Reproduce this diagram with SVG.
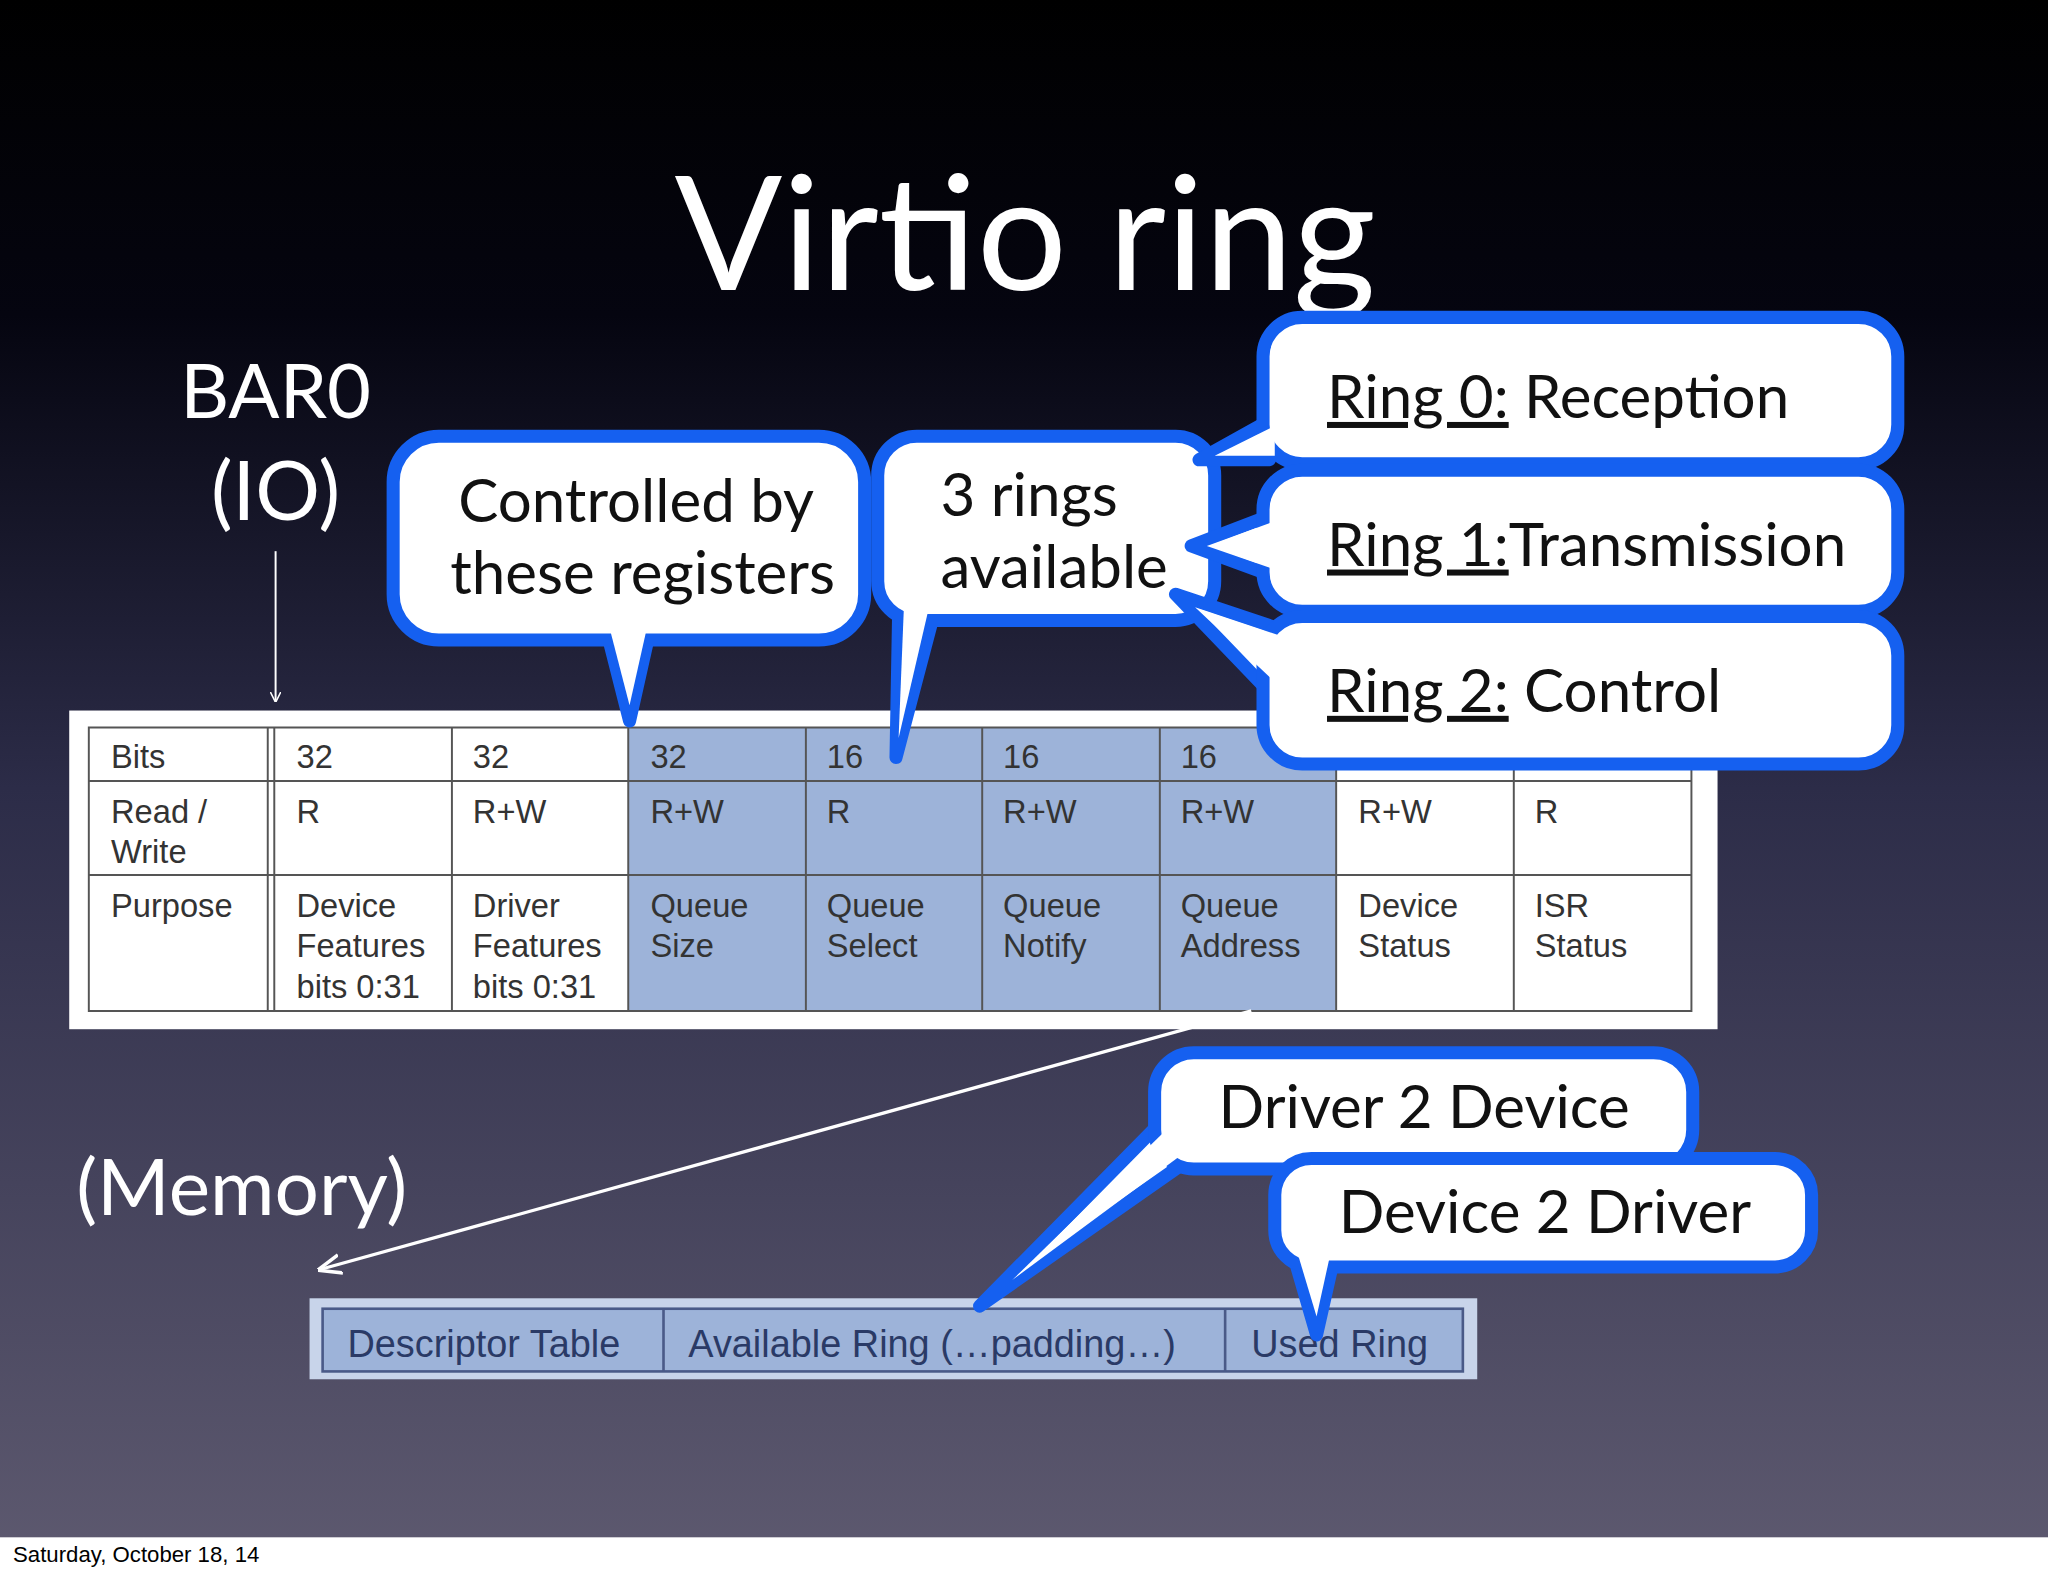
<svg xmlns="http://www.w3.org/2000/svg" width="2048" height="1576" viewBox="0 0 2048 1576">
<defs>
<linearGradient id="bg" x1="0" y1="0" x2="0" y2="1">
<stop offset="0" stop-color="#000"/><stop offset="0.2" stop-color="#050510"/><stop offset="0.5" stop-color="#2c2c48"/><stop offset="1" stop-color="#5e5a70"/>
</linearGradient>
<marker id="ah" viewBox="0 0 10 10" refX="9" refY="5" markerWidth="8" markerHeight="8" orient="auto" markerUnits="userSpaceOnUse"><path d="M0,0 L10,5 L0,10" fill="none" stroke="#fff" stroke-width="1.5"/></marker>
<marker id="ah2" viewBox="0 0 10 10" refX="9" refY="5" markerWidth="18" markerHeight="18" orient="auto" markerUnits="userSpaceOnUse"><path d="M0,1 L10,5 L0,9" fill="none" stroke="#fff" stroke-width="1.5"/></marker>
</defs>
<style>
.w{fill:#fff;font-family:Lato,"Open Sans",sans-serif}
.c{fill:#111;font-family:Lato,"Open Sans",sans-serif;font-size:46px}
.t{fill:#333;font-family:"Liberation Sans",Arial,sans-serif;font-size:25px}
.b{fill:#fff;stroke:#1560f0;stroke-width:10;stroke-linejoin:round}
.bf{fill:#fff;stroke:none}
.g{stroke:#555;stroke-width:1.5;fill:none}
</style>
<rect width="2048" height="1576" fill="url(#bg)"/>
<g transform="scale(1.30612)">
<rect x="0" y="1177" width="1568" height="30" fill="#fff"/>
<text x="10" y="1196" font-family="Liberation Sans,Arial,sans-serif" font-size="17" fill="#000">Saturday, October 18, 14</text>
<text class="w" x="785" y="222" font-size="122" text-anchor="middle">Virtio ring</text>
<text class="w" x="211" y="320" font-size="58" text-anchor="middle">BAR0</text>
<text class="w" x="211" y="398" font-size="62" text-anchor="middle">(IO)</text>
<text class="w" x="185" y="930" font-size="60" text-anchor="middle">(Memory)</text>
<g id="table">
<rect x="53" y="544" width="1262" height="244" fill="#fff"/>
<rect x="481" y="557" width="542" height="217" fill="#9db3d9"/>
<path class="g" d="M68,557H1295V774H68Z M68,598H1295 M68,670H1295 M205,557V774 M210,557V774 M346,557V774 M481,557V774 M617,557V774 M752,557V774 M888,557V774 M1023,557V774 M1159,557V774"/>
<g class="t">
<text x="85" y="588">Bits</text><text x="227" y="588">32</text><text x="362" y="588">32</text><text x="498" y="588">32</text><text x="633" y="588">16</text><text x="768" y="588">16</text><text x="904" y="588">16</text>
<text x="85" y="630">Read     /</text><text x="85" y="661">Write</text>
<text x="227" y="630">R</text><text x="362" y="630">R+W</text><text x="498" y="630">R+W</text><text x="633" y="630">R</text><text x="768" y="630">R+W</text><text x="904" y="630">R+W</text><text x="1040" y="630">R+W</text><text x="1175" y="630">R</text>
<text x="85" y="702">Purpose</text>
<text x="227" y="702">Device</text><text x="227" y="733">Features</text><text x="227" y="764">bits 0:31</text>
<text x="362" y="702">Driver</text><text x="362" y="733">Features</text><text x="362" y="764">bits 0:31</text>
<text x="498" y="702">Queue</text><text x="498" y="733">Size</text>
<text x="633" y="702">Queue</text><text x="633" y="733">Select</text>
<text x="768" y="702">Queue</text><text x="768" y="733">Notify</text>
<text x="904" y="702">Queue</text><text x="904" y="733">Address</text>
<text x="1040" y="702">Device</text><text x="1040" y="733">Status</text>
<text x="1175" y="702">ISR</text><text x="1175" y="733">Status</text>
</g>
</g>
<g id="memtable">
<rect x="237" y="994" width="894" height="62" fill="#c8d4ea"/>
<rect x="247" y="1002" width="873" height="48" fill="#9db3d9" stroke="#4a5a88" stroke-width="2"/>
<path d="M508,1002V1050 M938,1002V1050" stroke="#4a5a88" stroke-width="2"/>
<g font-family="Liberation Sans,Arial,sans-serif" font-size="29" fill="#2a3a66">
<text x="266" y="1039">Descriptor Table</text><text x="527" y="1039">Available Ring (…padding…)</text><text x="958" y="1039">Used Ring</text>
</g>
</g>
<g id="connectors" stroke="#fff" fill="none">
<line x1="211" y1="422" x2="211" y2="537" stroke-width="1.5" marker-end="url(#ah)"/>
<line x1="958" y1="774" x2="245" y2="972" stroke-width="2.5" marker-end="url(#ah2)"/>
</g>
<g id="c1">
<path class="b" d="M465,485 L482,552 L497,485Z"/>
<rect class="b" x="301" y="334" width="361" height="156" rx="35"/>
<path class="bf" d="M467,482 L482,540 L495,482Z"/>
<text class="c" x="487" y="400" text-anchor="middle">Controlled by</text>
<text class="c" x="492" y="455" text-anchor="middle">these registers</text>
</g>
<g id="c2">
<path class="b" d="M688,470 L686,580 L715,470Z"/>
<rect class="b" x="672" y="334" width="258" height="141" rx="30"/>
<path class="bf" d="M692,466 L688,565 L711,466Z"/>
<text class="c" x="720" y="395">3 rings</text>
<text class="c" x="720" y="450">available</text>
</g>
<g id="r0">
<path class="b" d="M972,322 L918,352 L972,352Z"/>
<rect class="b" x="967" y="243" width="486" height="112" rx="30"/>
<path class="bf" d="M976,326 L930,349 L976,349Z"/>
<text class="c" x="1016" y="320"><tspan text-decoration="underline">Ring 0:</tspan> Reception</text>
</g>
<g id="r1">
<path class="b" d="M972,395 L912,418 L972,440Z"/>
<rect class="b" x="967" y="360" width="486" height="108" rx="30"/>
<path class="bf" d="M976,399 L924,418 L976,436Z"/>
<text class="c" x="1016" y="433"><tspan text-decoration="underline">Ring 1:</tspan>Transmission</text>
</g>
<g id="r2">
<path class="b" d="M975,480 L900,455 L972,530Z"/>
<rect class="b" x="967" y="472" width="486" height="113" rx="30"/>
<path class="bf" d="M978,486 L915,465 L976,522Z"/>
<text class="c" x="1016" y="545"><tspan text-decoration="underline">Ring 2:</tspan> Control</text>
</g>
<g id="d2d">
<path class="b" d="M888,860 L750,1000 L910,888Z"/>
<rect class="b" x="884" y="806" width="412" height="89" rx="30"/>
<path class="bf" d="M892,866 L775,980 L905,884Z"/>
<text class="c" x="933" y="864">Driver 2 Device</text>
</g>
<g id="dev2d">
<path class="b" d="M990,960 L1008,1022 L1022,960Z"/>
<rect class="b" x="976" y="887" width="411" height="83" rx="28"/>
<path class="bf" d="M993,958 L1008,1008 L1019,958Z"/>
<text class="c" x="1025" y="944">Device 2 Driver</text>
</g>
</g>
</svg>
